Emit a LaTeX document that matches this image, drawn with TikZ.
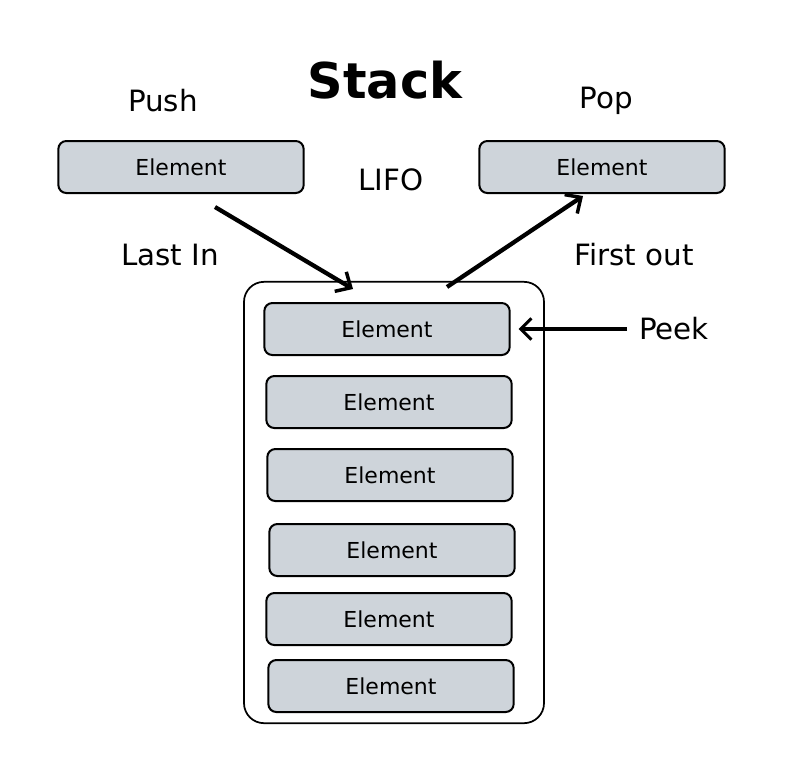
\documentclass[tikz,border=0pt]{standalone}
\usepackage{fontspec}
\setmainfont{DejaVu Sans}
\usetikzlibrary{arrows.meta,positioning,calc}
\definecolor{elemgray}{HTML}{CED4DA}
\tikzset{
  elem/.style={draw=black, line width=1.5pt, fill=elemgray, rounded corners=6pt,
    minimum width=184pt, minimum height=39pt, font=\fontsize{16.5}{18}\selectfont},
  lbl/.style={font=\fontsize{22}{25}\selectfont},
  bigarrow/.style={line width=3.2pt, -{Straight Barb[length=9pt,width=17pt,line width=2.6pt]}},
  peekarrow/.style={line width=2.6pt, -{Straight Barb[length=8pt,width=16pt,line width=2.2pt]}}
}

\begin{document}
\begin{tikzpicture}[x=0.75pt,y=-0.75pt]
\useasboundingbox (0,0) rectangle (812,779);
% the stack itself
\node[draw, line width=1.3pt, rounded corners=15pt, minimum width=225pt,
  minimum height=331pt] (box) at (394,502.5) {};
\foreach \n/\x/\y in {1/387/329, 2/389/402, 3/390/475, 4/392/550, 5/389/619, 6/391/686}
  \node[elem] (stk\n) at (\x,\y) {Element};

% push and pop
\node[elem] (push) at (181,167) {Element};
\node[elem] (pop) at (602,167) {Element};

\node[font=\fontsize{37}{40}\selectfont\bfseries] (title) at (385,80) {Stack};
\node[lbl] (pushlbl) at (163,101) {Push};
\node[lbl] (poplbl) at (606,101) {Pop};
\node[lbl] (lifo) at (391,180) {LIFO};
\node[lbl] (lastin) at (170,255) {Last In};
\node[lbl] (firstout) at (634,255) {First out};
\node[lbl, anchor=west, inner sep=0pt, outer sep=9pt] (peek) at (627,329) {Peek};

\coordinate (inS) at (215,207);
\coordinate (inE) at (353,289);
\coordinate (outS) at (447,287);
\coordinate (outE) at (583,196);
\draw[bigarrow] (inS) -- (inE);
\draw[bigarrow] (outS) -- (outE);
\draw[peekarrow, shorten >=6pt] (peek.west) -- (stk1.east);
\end{tikzpicture}
\end{document}
